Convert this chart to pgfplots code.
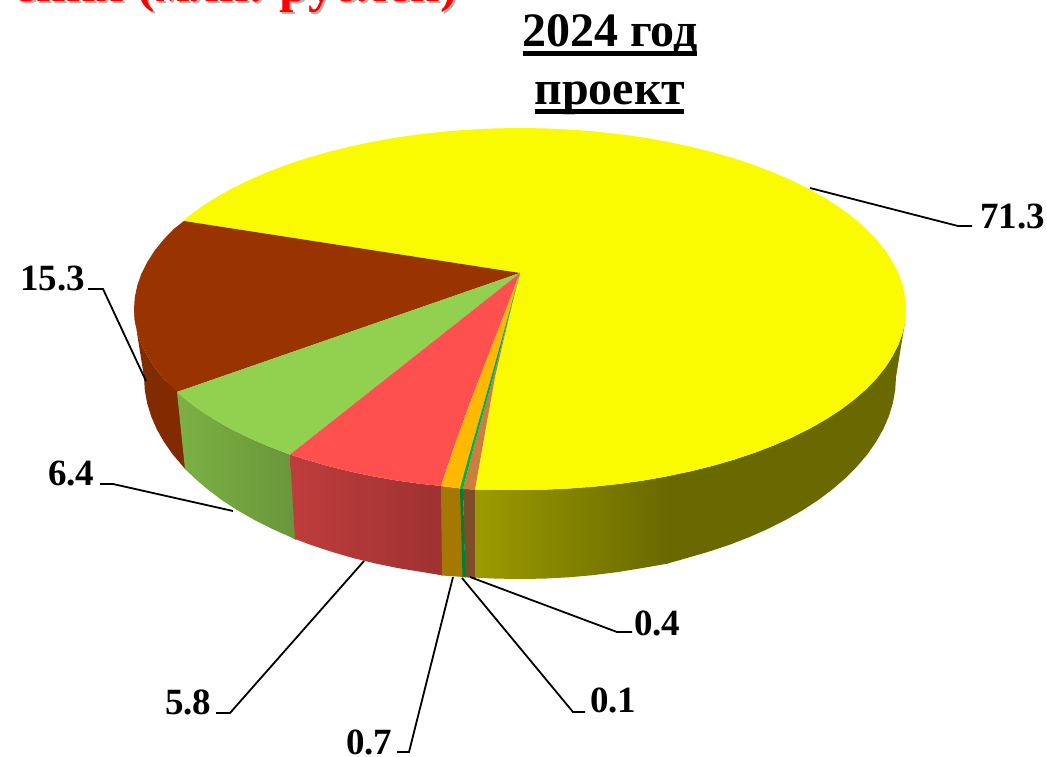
\documentclass[border=0pt]{standalone}
\usepackage{pgfplots}
\usepackage{fontspec}
\setmainfont{Liberation Serif}
\pgfplotsset{compat=1.18}
\definecolor{cyellow}{HTML}{FAFA00}
\definecolor{cbrown}{HTML}{993300}
\definecolor{cgreen}{HTML}{92D050}
\definecolor{cred}{HTML}{FF5050}
\definecolor{corange}{HTML}{FFB900}
\definecolor{cteal}{HTML}{00B050}
\definecolor{ctan}{HTML}{CC7F3D}
\newcommand{\lab}{\fontsize{37}{40}\selectfont\bfseries}
\newcommand{\ttl}{\fontsize{48}{52}\selectfont\bfseries}
\tikzset{leader/.style={black,line width=1.8pt}}
\begin{document}
\begin{tikzpicture}
\path[clip,use as bounding box] (0,0) rectangle (1047pt,757pt);
\begin{axis}[
    scale only axis,
    width=1047pt, height=757pt,
    xmin=0, xmax=1047,
    ymin=0, ymax=757,
    y dir=reverse,
    hide axis
]
% side of the pie, pixel positions
\addplot[draw=none,fill=cbrown!85!black] coordinates {
  (134,309) (134.8,320.8) (137.3,332.6) (141.4,344.3) (147.2,355.8) (154.5,367.2) (163.4,378.3) (178,392) (186,470)
  (182.8,466.3) (172.6,454.3) (164,441.9) (156.8,429.3) (151.2,416.4) (147.2,403.4) (144.8,390.2) (144,377) (137,333)} -- cycle;
\addplot[draw=none,left color=cgreen!85!black,right color=cgreen!72!black] coordinates {
  (177,392) (185.7,399.5) (199.1,409.6) (213.8,419.2) (229.8,428.3) (247.1,437) (265.5,445.1) (285,452.6) (291,455)
  (296,540) (291.1,537.3) (272.1,528.9) (254.1,519.8) (237.3,510.2) (221.7,500) (207.4,489.2) (194.4,478) (185,469)} -- cycle;
\addplot[draw=none,left color=cred!75!black,right color=cred!62!black] coordinates {
  (290,454.5) (305.5,459.5) (327,465.7) (349.3,471.3) (372.3,476.2) (395.9,480.4) (420.1,483.8) (442,486)
  (443,575.5) (422.7,572.1) (399.1,568.3) (376.1,563.6) (353.7,558.2) (332,551.9) (311.1,545) (295,539)} -- cycle;
\addplot[draw=none,fill=corange!65!black] coordinates {
  (441,486) (461,488.5) (464,577) (442,575.5)} -- cycle;
\addplot[draw=none,fill=ctan!62!black] coordinates {
  (463,489) (476,489.5) (476,578) (465,577.3)} -- cycle;
\addplot[draw=none,fill=cteal!72!black] coordinates {
  (460,488.5) (463,489) (465.5,577.3) (462.5,577)} -- cycle;
\addplot[draw=none,left color=cyellow!62!black,right color=cyellow!42!black] coordinates {
  (475,489.5) (520,490) (545.2,489.6) (570.4,488.4) (595.3,486.5) (619.9,483.8) (644.1,480.4) (667.7,476.2)
  (667.7,563.6) (640.9,568.3) (617.3,572.1) (593.4,575.1) (569.1,577.3) (544.6,578.6) (520,579) (495.4,578.6) (475,577.6)} -- cycle;
\addplot[draw=none,fill=cyellow!42!black] coordinates {
  (667,476.2) (690.7,471.3) (713,465.7) (734.5,459.5) (755,452.6) (774.5,445.1) (792.9,437) (810.2,428.3) (826.2,419.2)
  (840.9,409.6) (854.3,399.5) (866.2,389.1) (876.6,378.3) (885.5,367.2) (892.8,355.8) (898.6,344.3) (902.7,332.6) (905.2,320.8)
  (896,377) (895.2,390.2) (892.8,403.4) (888.8,416.4) (883.2,429.3) (876,441.9) (867.4,454.3) (857.2,466.3) (845.6,478)
  (832.6,489.2) (818.3,500) (802.7,510.2) (785.9,519.8) (767.9,528.9) (748.9,537.3) (728.9,545) (708,551.9) (686.3,558.2) (667,563.7)} -- cycle;
% top of the pie
\addplot[draw=none,fill=cyellow] coordinates {
  (520,273) (513,300) (495,377) (482,450) (475,489.5) (520,490) (545.2,489.6) (570.4,488.4) (595.3,486.5) (619.9,483.8)
  (644.1,480.4) (667.7,476.2) (690.7,471.3) (713,465.7) (734.5,459.5) (755,452.6) (774.5,445.1) (792.9,437) (810.2,428.3)
  (826.2,419.2) (840.9,409.6) (854.3,399.5) (866.2,389.1) (876.6,378.3) (885.5,367.2) (892.8,355.8) (898.6,344.3) (902.7,332.6)
  (905.2,320.8) (906,309) (905.2,297.2) (902.7,285.4) (898.6,273.7) (892.8,262.2) (885.5,250.8) (876.6,239.7) (866.2,228.9)
  (854.3,218.5) (840.9,208.4) (826.2,198.8) (810.2,189.7) (792.9,181) (774.5,172.9) (755,165.4) (734.5,158.5) (713,152.3)
  (690.7,146.7) (667.7,141.8) (644.1,137.6) (619.9,134.2) (595.3,131.5) (570.4,129.6) (545.2,128.4) (520,128) (494.8,128.4)
  (469.6,129.6) (444.7,131.5) (420.1,134.2) (395.9,137.6) (372.3,141.8) (349.3,146.7) (327,152.3) (305.5,158.5) (285,165.4)
  (265.5,172.9) (247.1,181) (229.8,189.7) (213.8,198.8) (199.1,208.4) (185.7,218.5) (184,221)} -- cycle;
\addplot[draw=none,fill=cbrown] coordinates {
  (520,273) (184,221) (173.8,228.9) (163.4,239.7) (154.5,250.8) (147.2,262.2) (141.4,273.7) (137.3,285.4) (134.8,297.2) (134,309)
  (134.8,320.8) (137.3,332.6) (141.4,344.3) (147.2,355.8) (154.5,367.2) (163.4,378.3) (177,392)} -- cycle;
\addplot[draw=none,fill=cgreen] coordinates {
  (520,273) (177,392) (185.7,399.5) (199.1,409.6) (213.8,419.2) (229.8,428.3) (247.1,437) (265.5,445.1) (285,452.6) (290,454.5)} -- cycle;
\addplot[draw=none,fill=cred] coordinates {
  (520,273) (290,454.5) (305.5,459.5) (327,465.7) (349.3,471.3) (372.3,476.2) (395.9,480.4) (420.1,483.8) (441,486) (453,450) (470,403)} -- cycle;
\addplot[draw=none,fill=corange] coordinates {
  (520,273) (470,403) (453,450) (441,486) (461,488.5) (470.5,450) (491,378)} -- cycle;
\addplot[draw=none,fill=ctan] coordinates {
  (520,273) (493,378) (473,450) (463,489) (475,489.5) (482,450) (495,377) (513,300)} -- cycle;
\addplot[draw=none,fill=cteal] coordinates {
  (520,273) (491,378) (470.5,450) (460,488.5) (463,489) (473,450) (493,378)} -- cycle;
% leader lines
\addplot[leader] coordinates {(810,188) (958,226) (972,226)};
\addplot[leader] coordinates {(146,381) (103,289) (88,289)};
\addplot[leader] coordinates {(233,511) (113,484) (100,484)};
\addplot[leader] coordinates {(364,561) (230,713) (216,713)};
\addplot[leader] coordinates {(453,577) (409,752) (397,752)};
\addplot[leader] coordinates {(462,578) (573,712) (585,712)};
\addplot[leader] coordinates {(470,577) (617,632) (632,632)};
% underlines of the heading
\addplot[black,line width=5pt] coordinates {(523,54) (697,54)};
\addplot[black,line width=5pt] coordinates {(535,112) (684,112)};
% texts
\node[anchor=base east,inner sep=0pt,text=black!30] at (axis cs:460,4) {\fontsize{52}{56}\selectfont\bfseries ения (млн. рублей)};
\node[anchor=base east,inner sep=0pt,text=red] at (axis cs:458,2) {\fontsize{52}{56}\selectfont\bfseries ения (млн. рублей)};
\node[anchor=base] at (axis cs:610,47) {\ttl 2024 год};
\node[anchor=base] at (axis cs:610,105) {\ttl проект};
\node[anchor=base west,inner sep=0pt] at (axis cs:980,228) {\lab 71.3};
\node[anchor=base west,inner sep=0pt] at (axis cs:20,290) {\lab 15.3};
\node[anchor=base west,inner sep=0pt] at (axis cs:48,485) {\lab 6.4};
\node[anchor=base west,inner sep=0pt] at (axis cs:165,714) {\lab 5.8};
\node[anchor=base west,inner sep=0pt] at (axis cs:346,754) {\lab 0.7};
\node[anchor=base west,inner sep=0pt] at (axis cs:590,712) {\lab 0.1};
\node[anchor=base west,inner sep=0pt] at (axis cs:634,635) {\lab 0.4};
\end{axis}
\end{tikzpicture}
\end{document}
